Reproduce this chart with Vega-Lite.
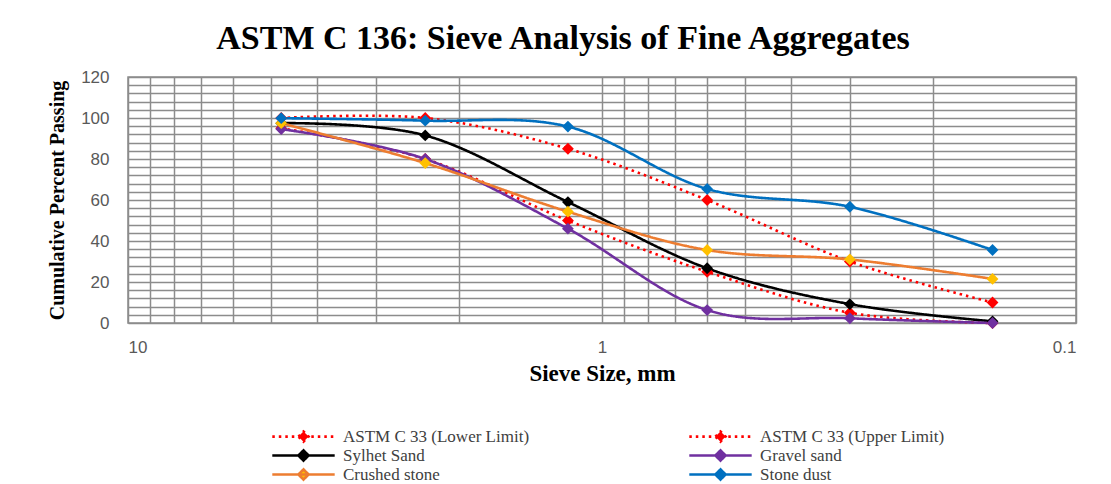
{
  "$schema": "https://vega.github.io/schema/vega-lite/v6.json",
  "width": 948,
  "height": 246,
  "autosize": {"type": "none"},
  "padding": {"left": 128, "top": 77, "right": 35, "bottom": 161},
  "background": "white",
  "title": {
    "text": "ASTM C 136: Sieve Analysis of Fine Aggregates",
    "font": "Liberation Serif",
    "fontSize": 34,
    "fontWeight": "bold",
    "color": "#000000",
    "anchor": "middle",
    "dx": -39,
    "offset": 12
  },
  "config": {
    "view": {"stroke": "#8c8c8c", "strokeWidth": 1.5},
    "axis": {"domain": false, "ticks": false},
    "legend": {"rowPadding": -4}
  },
  "data": {
    "values": [
      {"size": 4.75, "series": "ASTM C 33 (Lower Limit)", "pct": 95},
      {"size": 2.36, "series": "ASTM C 33 (Lower Limit)", "pct": 80},
      {"size": 1.18, "series": "ASTM C 33 (Lower Limit)", "pct": 50},
      {"size": 0.6, "series": "ASTM C 33 (Lower Limit)", "pct": 25},
      {"size": 0.3, "series": "ASTM C 33 (Lower Limit)", "pct": 5},
      {"size": 0.15, "series": "ASTM C 33 (Lower Limit)", "pct": 0},
      {"size": 4.75, "series": "ASTM C 33 (Upper Limit)", "pct": 100},
      {"size": 2.36, "series": "ASTM C 33 (Upper Limit)", "pct": 100},
      {"size": 1.18, "series": "ASTM C 33 (Upper Limit)", "pct": 85},
      {"size": 0.6, "series": "ASTM C 33 (Upper Limit)", "pct": 60},
      {"size": 0.3, "series": "ASTM C 33 (Upper Limit)", "pct": 30},
      {"size": 0.15, "series": "ASTM C 33 (Upper Limit)", "pct": 10},
      {"size": 4.75, "series": "Sylhet Sand", "pct": 97.5},
      {"size": 2.36, "series": "Sylhet Sand", "pct": 91.5},
      {"size": 1.18, "series": "Sylhet Sand", "pct": 59},
      {"size": 0.6, "series": "Sylhet Sand", "pct": 26.7},
      {"size": 0.3, "series": "Sylhet Sand", "pct": 9.2},
      {"size": 0.15, "series": "Sylhet Sand", "pct": 0.8},
      {"size": 4.75, "series": "Gravel sand", "pct": 94.6},
      {"size": 2.36, "series": "Gravel sand", "pct": 80},
      {"size": 1.18, "series": "Gravel sand", "pct": 46},
      {"size": 0.6, "series": "Gravel sand", "pct": 6.3},
      {"size": 0.3, "series": "Gravel sand", "pct": 2.3},
      {"size": 0.15, "series": "Gravel sand", "pct": 0},
      {"size": 4.75, "series": "Crushed stone", "pct": 97.5},
      {"size": 2.36, "series": "Crushed stone", "pct": 78},
      {"size": 1.18, "series": "Crushed stone", "pct": 54.3},
      {"size": 0.6, "series": "Crushed stone", "pct": 35.6},
      {"size": 0.3, "series": "Crushed stone", "pct": 31},
      {"size": 0.15, "series": "Crushed stone", "pct": 21.5},
      {"size": 4.75, "series": "Stone dust", "pct": 99.9},
      {"size": 2.36, "series": "Stone dust", "pct": 98.7},
      {"size": 1.18, "series": "Stone dust", "pct": 95.8},
      {"size": 0.6, "series": "Stone dust", "pct": 65.4},
      {"size": 0.3, "series": "Stone dust", "pct": 56.7},
      {"size": 0.15, "series": "Stone dust", "pct": 35.6}
    ]
  },
  "encoding": {
    "x": {
      "field": "size",
      "type": "quantitative",
      "scale": {"type": "log", "domain": [0.1, 10], "reverse": true, "nice": false},
      "axis": {
        "title": "Sieve Size, mm",
        "titleFont": "Liberation Serif",
        "titleFontSize": 23,
        "titleFontWeight": "bold",
        "titleColor": "#000000",
        "titlePadding": 7,
        "values": [0.1, 0.2, 0.3, 0.4, 0.5, 0.6, 0.7, 0.8, 0.9, 1, 2, 3, 4, 5, 6, 7, 8, 9, 10],
        "labelExpr": "(datum.value == 0.1 || datum.value == 1 || datum.value == 10) ? format(datum.value, '~g') : ''",
        "labelOverlap": false,
        "labelFont": "Liberation Sans",
        "labelFontSize": 17,
        "labelColor": "#595959",
        "labelPadding": 16,
        "gridColor": "#8c8c8c",
        "gridWidth": 1.5,
        "gridOpacity": 1
      }
    },
    "y": {
      "field": "pct",
      "type": "quantitative",
      "scale": {"domain": [0, 120], "nice": false},
      "axis": {
        "title": "Cumulative Percent Passing",
        "titleFont": "Liberation Serif",
        "titleFontSize": 20,
        "titleFontWeight": "bold",
        "titleColor": "#000000",
        "titlePadding": 13,
        "values": [0, 4, 8, 12, 16, 20, 24, 28, 32, 36, 40, 44, 48, 52, 56, 60, 64, 68, 72, 76, 80, 84, 88, 92, 96, 100, 104, 108, 112, 116, 120],
        "labelExpr": "datum.value % 20 === 0 ? datum.label : ''",
        "labelOverlap": false,
        "labelFont": "Liberation Sans",
        "labelFontSize": 17,
        "labelColor": "#595959",
        "labelPadding": 19,
        "gridColor": "#8c8c8c",
        "gridWidth": 1.5,
        "gridOpacity": 1
      }
    }
  },
  "layer": [
    {
      "mark": {"type": "line", "interpolate": "cardinal", "strokeWidth": 2.6, "clip": false},
      "encoding": {
        "color": {
          "field": "series",
          "type": "nominal",
          "scale": {
            "domain": ["ASTM C 33 (Lower Limit)", "Sylhet Sand", "Crushed stone", "ASTM C 33 (Upper Limit)", "Gravel sand", "Stone dust"],
            "range": ["#FF0000", "#000000", "#ED7D31", "#FF0000", "#7030A0", "#0070C0"]
          },
          "legend": {
            "title": null,
            "orient": "none",
            "legendX": 167,
            "legendY": 351,
            "columns": 2,
            "columnPadding": 154,
            "rowPadding": -4,
            "symbolType": "M-5.2,0H5.2M-0.85,0L0,-0.85L0.85,0L0,0.85Z",
            "symbolSize": 144,
            "symbolStrokeWidth": 2.6,
            "labelFont": "Liberation Serif",
            "labelFontSize": 17,
            "labelColor": "#404040",
            "labelOffset": 31,
            "labelLimit": 400
          }
        },
        "strokeDash": {
          "field": "series",
          "type": "nominal",
          "scale": {
            "domain": ["ASTM C 33 (Lower Limit)", "Sylhet Sand", "Crushed stone", "ASTM C 33 (Upper Limit)", "Gravel sand", "Stone dust"],
            "range": [[2.5, 4], [1, 0], [1, 0], [2.5, 4], [1, 0], [1, 0]]
          },
          "legend": {
            "title": null,
            "orient": "none",
            "legendX": 167,
            "legendY": 351,
            "columns": 2,
            "columnPadding": 154,
            "rowPadding": -4,
            "symbolType": "M-5.2,0H5.2M-0.85,0L0,-0.85L0.85,0L0,0.85Z",
            "symbolSize": 144,
            "symbolStrokeWidth": 2.6,
            "labelFont": "Liberation Serif",
            "labelFontSize": 17,
            "labelColor": "#404040",
            "labelOffset": 31,
            "labelLimit": 400
          }
        }
      }
    },
    {
      "mark": {"type": "point", "shape": "diamond", "filled": true, "size": 140, "opacity": 1, "clip": false},
      "encoding": {
        "fill": {
          "field": "series",
          "type": "nominal",
          "scale": {
            "domain": ["ASTM C 33 (Lower Limit)", "Sylhet Sand", "Crushed stone", "ASTM C 33 (Upper Limit)", "Gravel sand", "Stone dust"],
            "range": ["#FF0000", "#000000", "#FFC000", "#FF0000", "#7030A0", "#0070C0"]
          },
          "legend": null
        }
      }
    }
  ]
}
